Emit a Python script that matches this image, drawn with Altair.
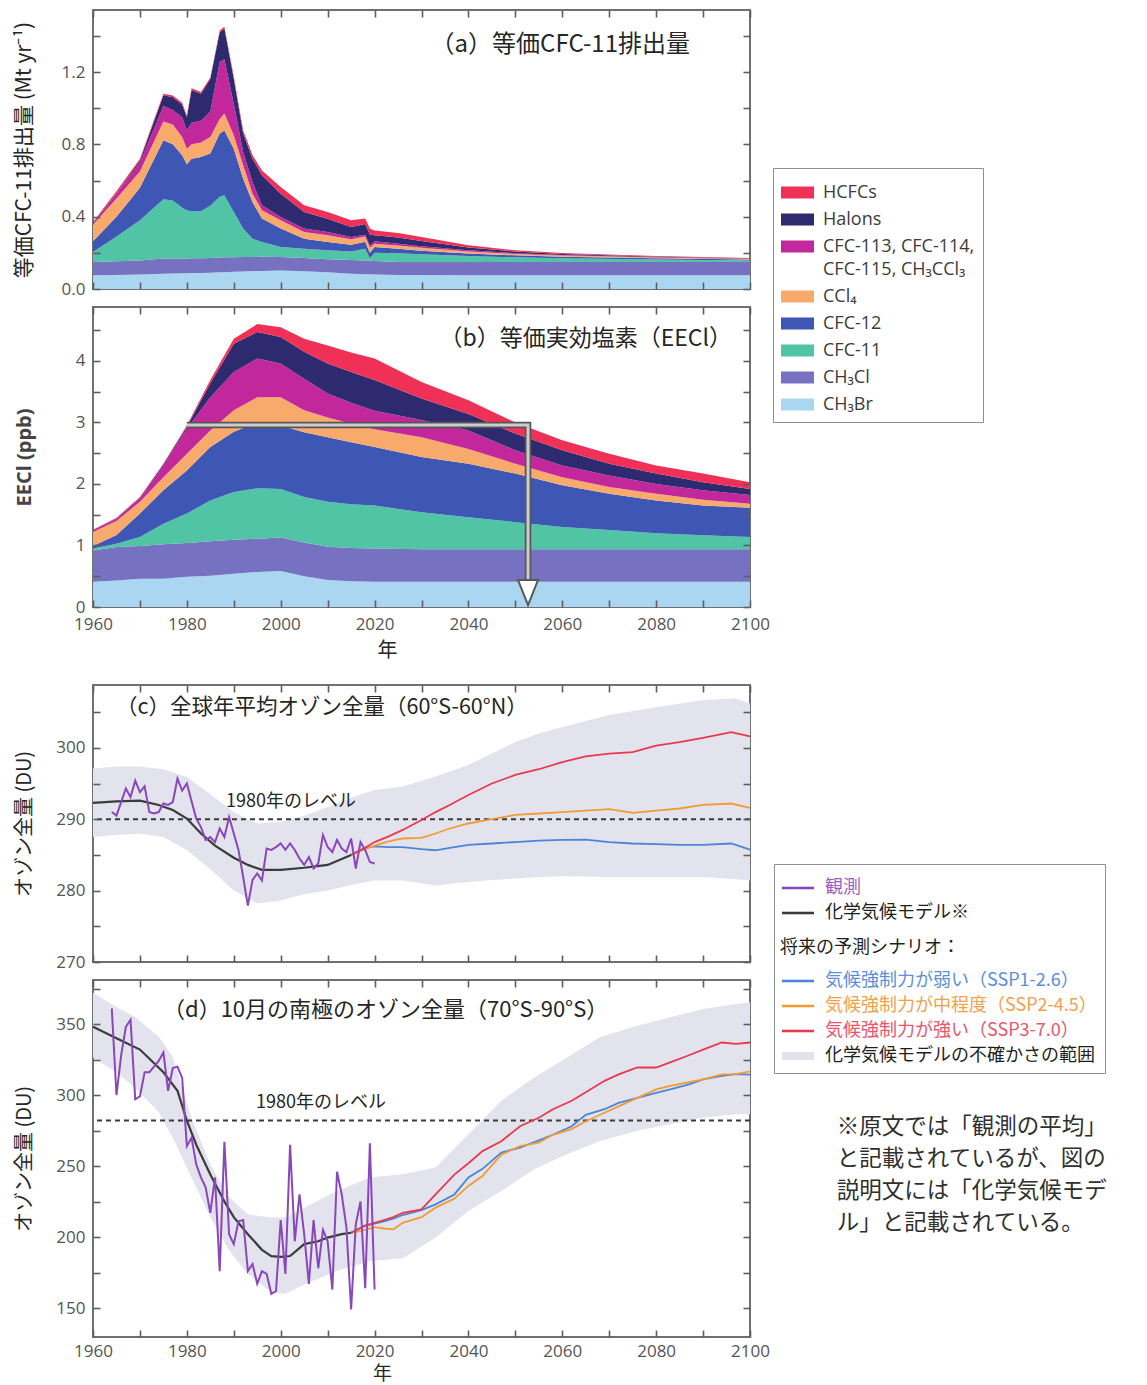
import altair as alt
import pandas as pd

JP = "Noto Sans CJK JP"
NUM = "Open Sans"
NUM_COLOR = "#555555"
TICK_COLOR = "#5e5e5e"
TEXT_COLOR = "#262626"

W = 657
H_A, H_B, H_C, H_D = 279, 300, 277, 357

X_DOMAIN = [1960, 2100]
X_TICKS = [1960, 1970, 1980, 1990, 2000, 2010, 2020, 2030, 2040, 2050, 2060, 2070, 2080, 2090, 2100]
X_LABELS = [1960, 1980, 2000, 2020, 2040, 2060, 2080, 2100]

# legend order (top -> bottom) and colours of the stacked species
SPECIES = ["HCFCs", "Halons", "CFC-113, CFC-114,|CFC-115, CH₃CCl₃", "CCl₄", "CFC-12", "CFC-11", "CH₃Cl", "CH₃Br"]
SPECIES_COLORS = ["#ef3057", "#2d2a70", "#c2279c", "#f7aa6c", "#3e57b5", "#51c4a6", "#7672c1", "#aad6f2"]

# ---------------- (a) equivalent CFC-11 emissions: upper edge of each stacked layer (Mt/yr) ----------------
A_YEARS = [1960, 1965, 1970, 1975, 1977, 1979, 1980, 1981, 1983, 1985, 1987, 1988, 1990, 1992, 1994,
           1996, 2000, 2005, 2010, 2015, 2018, 2019, 2020, 2025, 2030, 2040, 2050, 2060, 2080, 2100]
A_CH3BR = [.076, .078, .080, .085, .086, .087, .087, .088, .088, .090, .092, .093, .095, .097, .099,
           .100, .103, .098, .092, .085, .082, .081, .080, .077, .077, .076, .076, .076, .076, .076]
A_CH3CL = [.149, .153, .158, .168, .168, .169, .169, .170, .170, .172, .174, .175, .176, .177, .177,
           .178, .177, .172, .165, .160, .157, .156, .155, .150, .150, .150, .149, .149, .149, .149]
A_CFC11 = [.205, .290, .380, .496, .490, .450, .435, .430, .430, .460, .510, .518, .426, .334, .278,
           .260, .232, .223, .214, .208, .223, .170, .200, .198, .192, .183, .175, .170, .163, .158]
A_CFC12 = [.264, .400, .560, .822, .800, .740, .690, .720, .730, .750, .860, .877, .776, .610, .480,
           .390, .334, .278, .260, .245, .262, .200, .232, .222, .212, .197, .186, .179, .170, .163]
A_CCL4 = [.356, .500, .650, .927, .910, .840, .776, .800, .810, .840, .940, .970, .850, .684, .527,
          .435, .380, .315, .297, .275, .290, .230, .250, .240, .228, .208, .194, .185, .174, .166]
A_CFC113 = [.362, .525, .700, 1.012, .990, .950, .877, .920, .930, .980, 1.255, 1.270, 1.025, .758, .590,
            .463, .398, .334, .315, .288, .300, .240, .264, .250, .237, .214, .198, .188, .176, .167]
A_HALONS = [.366, .530, .710, 1.071, 1.060, 1.020, .950, 1.100, 1.080, 1.163, 1.420, 1.440, 1.163, .860, .720,
            .629, .527, .426, .389, .343, .360, .300, .297, .285, .265, .230, .207, .194, .179, .169]
A_HCFCS = [.370, .540, .720, 1.080, 1.070, 1.030, .960, 1.110, 1.090, 1.170, 1.430, 1.450, 1.175, .877, .740,
           .656, .564, .463, .426, .380, .390, .335, .324, .310, .288, .242, .214, .199, .182, .171]
A_Y_DOMAIN = [0, 1.543]
A_Y_TICKS = [0, 0.2, 0.4, 0.6, 0.8, 1.0, 1.2, 1.4]
A_Y_LABELS = [0, 0.4, 0.8, 1.2]

# ---------------- (b) EECl: upper edge of each stacked layer (ppb) ----------------
B_YEARS = [1960, 1965, 1970, 1975, 1980, 1985, 1990, 1995, 2000, 2005, 2010, 2015, 2020, 2030, 2040,
           2050, 2060, 2070, 2080, 2090, 2100]
B_CH3BR = [.41, .43, .46, .46, .49, .51, .54, .57, .585, .50, .44, .42, .41, .41, .41, .41, .41, .41, .41, .41, .41]
B_CH3CL = [.92, .975, .99, 1.02, 1.04, 1.07, 1.095, 1.11, 1.13, 1.05, .98, .96, .95, .94, .94, .94, .94, .94, .94, .94, .94]
B_CFC11 = [.95, 1.03, 1.14, 1.355, 1.52, 1.73, 1.87, 1.93, 1.92, 1.79, 1.71, 1.67, 1.65, 1.54, 1.46, 1.38, 1.30, 1.25,
           1.20, 1.165, 1.14]
B_CFC12 = [.99, 1.17, 1.52, 1.90, 2.22, 2.60, 2.85, 3.00, 2.95, 2.84, 2.76, 2.68, 2.60, 2.44, 2.33, 2.17, 1.98, 1.84,
           1.73, 1.65, 1.615]
B_CCL4 = [1.22, 1.40, 1.71, 2.11, 2.49, 2.87, 3.20, 3.41, 3.41, 3.20, 3.08, 2.98, 2.89, 2.76, 2.57, 2.33, 2.11, 1.95,
          1.84, 1.745, 1.68]
B_CFC113 = [1.245, 1.43, 1.77, 2.30, 2.90, 3.41, 3.82, 4.04, 3.96, 3.71, 3.47, 3.32, 3.19, 3.04, 2.87, 2.55, 2.30,
            2.14, 2.00, 1.90, 1.82]
B_HALONS = [1.25, 1.44, 1.78, 2.32, 2.93, 3.64, 4.28, 4.47, 4.39, 4.15, 3.96, 3.82, 3.69, 3.39, 3.14, 2.82, 2.55,
            2.33, 2.17, 2.03, 1.92]
B_HCFCS = [1.255, 1.45, 1.79, 2.33, 2.95, 3.69, 4.36, 4.60, 4.55, 4.36, 4.25, 4.14, 4.04, 3.66, 3.36, 3.00, 2.71,
           2.49, 2.30, 2.17, 2.03]
B_Y_DOMAIN = [0, 4.878]
B_Y_TICKS = [0, 0.5, 1, 1.5, 2, 2.5, 3, 3.5, 4, 4.5]
B_Y_LABELS = [0, 1, 2, 3, 4]
ARROW_YEARS = [1980, 2052.7, 2052.7]
ARROW_EECL = [2.96, 2.96, 0.45]
ARROW_TIP_YEAR = [2052.7]
ARROW_TIP_EECL = [0.235]

# ---------------- ozone panels: shared legend ----------------
OBS_C, MODEL_C = "#8b47ba", "#3b3b3b"
SSP1_C, SSP2_C, SSP3_C = "#4a86d8", "#f29b35", "#e8394f"
BAND_C = "#e3e3ee"
HEAD = "将来の予測シナリオ："
BAND_LABEL = "化学気候モデルの不確かさの範囲"
OZ_LABELS = ["観測", "化学気候モデル※", HEAD, "気候強制力が弱い（SSP1-2.6）",
             "気候強制力が中程度（SSP2-4.5）", "気候強制力が強い（SSP3-7.0）", BAND_LABEL]
OZ_SYMBOL_COLORS = [OBS_C, MODEL_C, "transparent", SSP1_C, SSP2_C, SSP3_C, BAND_C]
OZ_LABEL_COLORS = ["#9a5cc6", "#1f1f1f", "#1f1f1f", "#5b8fd9", "#f0a24a", "#e9566c", "#1f1f1f"]

OBS_YEARS = list(range(1964, 2021))

# ---------------- (c) global mean total ozone (DU) ----------------
C_Y_DOMAIN = [270, 308.8]
C_Y_TICKS = [270, 275, 280, 285, 290, 295, 300, 305]
C_Y_LABELS = [270, 280, 290, 300]
C_LEVEL = [290]
C_LEVEL_TEXT = ([2002.2], [292.4])
C_BAND_YEARS = [1960, 1965, 1970, 1975, 1980, 1985, 1990, 1995, 2000, 2005, 2010, 2015, 2020, 2026, 2033,
                2040, 2045, 2050, 2055, 2060, 2070, 2080, 2090, 2097, 2100]
C_BAND_LOW = [287.5, 287.8, 288.0, 287.5, 285.7, 283.0, 280.0, 278.2, 278.6, 279.5, 280.0, 280.8, 281.4, 281.4,
              280.7, 281.2, 281.5, 281.7, 281.9, 282.0, 281.9, 281.9, 281.9, 281.6, 281.4]
C_BAND_HIGH = [297.1, 297.4, 297.4, 297.0, 295.9, 293.5, 291.0, 289.4, 289.6, 290.5, 291.7, 293.0, 294.1, 294.6,
               296.0, 297.6, 299.2, 300.8, 302.0, 302.9, 304.6, 305.7, 306.7, 306.9, 306.2]
C_MODEL_YEARS = [1960, 1965, 1970, 1974, 1977, 1980, 1983, 1986, 1990, 1993, 1996, 2000, 2005, 2010, 2015]
C_MODEL = [292.3, 292.5, 292.6, 292.0, 291.3, 290.1, 288.0, 286.3, 284.6, 283.6, 282.9, 282.9, 283.2, 283.6, 285.0]
C_SCEN_YEARS = [2015, 2018, 2020, 2023, 2026, 2030, 2033, 2036, 2040, 2045, 2050, 2055, 2060, 2065, 2070, 2075,
                2080, 2085, 2090, 2096, 2100]
C_SSP126 = [285.0, 286.0, 286.2, 286.1, 286.1, 285.8, 285.65, 286.0, 286.4, 286.6, 286.8, 287.0, 287.1, 287.15,
            286.8, 286.6, 286.5, 286.4, 286.4, 286.6, 285.75]
C_SSP245 = [285.0, 285.8, 286.3, 286.9, 287.3, 287.4, 288.0, 288.7, 289.4, 290.0, 290.6, 290.8, 291.0, 291.2,
            291.4, 290.9, 291.2, 291.5, 292.0, 292.2, 291.6]
C_SSP370 = [285.0, 286.0, 286.8, 287.6, 288.5, 289.9, 291.0, 292.0, 293.4, 295.0, 296.2, 297.0, 298.0, 298.8,
            299.2, 299.4, 300.3, 300.8, 301.4, 302.2, 301.6]
C_OBS = [291.0, 290.5, 292.4, 294.3, 293.1, 295.4, 293.8, 294.6, 291.0, 290.8, 291.0, 292.2, 292.0, 292.4, 295.7,
         294.0, 295.0, 292.5, 290.1, 288.9, 287.1, 287.5, 286.8, 288.7, 287.5, 290.3, 288.0, 285.7, 281.9, 277.9,
         281.5, 282.4, 281.4, 285.9, 285.7, 286.1, 286.6, 285.7, 286.6, 285.7, 284.5, 283.6, 284.7, 283.1, 283.8,
         287.8, 286.1, 285.4, 287.1, 285.9, 285.4, 287.3, 283.1, 286.8, 285.7, 284.0, 283.8]

# ---------------- (d) October Antarctic total ozone (DU) ----------------
D_Y_DOMAIN = [129.6, 381.0]
D_Y_TICKS = [150, 175, 200, 225, 250, 275, 300, 325, 350, 375]
D_Y_LABELS = [150, 200, 250, 300, 350]
D_LEVEL = [282.0]
D_LEVEL_TEXT = ([2008.6], [294.4])
D_BAND_YEARS = [1960, 1965, 1969, 1974, 1977, 1981, 1985, 1989, 1993, 1998, 2001, 2005, 2012, 2019, 2026, 2033,
                2040, 2047, 2054, 2061, 2068, 2076, 2083, 2090, 2097, 2100]
D_BAND_HIGH = [372, 362, 355, 341, 327, 284, 251, 228, 216, 213.7, 213.7, 220.7, 232.5, 241.9, 244.2, 248.9,
               272.4, 296, 312.4, 326.5, 340.6, 348.8, 354.7, 360.6, 364.1, 365.3]
D_BAND_LOW = [326.5, 316, 305, 288, 270, 242, 214, 190.5, 174, 161, 160, 166.6, 176, 183, 185, 199.6, 218.4,
              232.5, 247.7, 258.3, 267.7, 274.8, 279.5, 284.2, 286.5, 286.5]
D_MODEL_YEARS = [1960, 1965, 1970, 1975, 1978, 1980, 1982, 1985, 1988, 1990, 1993, 1996, 1998, 2000, 2002, 2005,
                 2008, 2010, 2013, 2015]
D_MODEL = [348, 340, 332, 316, 303, 282, 265, 244, 225, 214, 202, 191, 186.5, 186, 186.6, 195, 197, 199.6, 202, 203]
D_SCEN_YEARS = [2015, 2018, 2020, 2022, 2024, 2026, 2030, 2033, 2037, 2040, 2043, 2047, 2051, 2055, 2058, 2062,
                2065, 2069, 2072, 2076, 2080, 2083, 2087, 2090, 2094, 2097, 2100]
D_SSP370 = [203, 208, 210, 212, 214, 217, 219.5, 230, 244, 252, 260.5, 267.5, 278, 284, 290, 296, 302, 310, 314.5,
            319.4, 319.4, 323, 328, 332, 337, 336, 337]
D_SSP126 = [203, 208, 209.5, 211, 213, 215.5, 219, 223, 230, 242, 248, 259.5, 263, 268, 272, 278, 286, 290, 294.5,
            298, 301.5, 304, 307.5, 311, 313.5, 314.7, 314.3]
D_SSP245 = [203, 205, 207, 206, 205.4, 210, 214, 220.7, 227, 236, 243, 258, 264, 266.5, 272, 276, 281.5, 287.5,
            292, 298, 304, 306.5, 309, 311, 314.5, 314.7, 316.6]
D_OBS = [361, 300, 328, 348, 353, 297, 299, 316, 316, 320, 324, 330, 303, 319, 320, 312, 264, 270, 251, 242, 235,
         217, 242, 176, 267, 202, 195, 211, 212, 176, 181, 167, 176, 174, 160, 162, 212, 174, 265, 197, 230, 202,
         167, 212, 178, 205, 197, 163, 246, 230, 207, 149, 209, 225, 164, 266, 163]

NOTE_LINES = ["※原文では「観測の平均」", "と記載されているが、図の", "説明文には「化学気候モデ", "ル」と記載されている。"]
NOTE_POS = ([2118.5], [285.2])

XS = alt.Scale(domain=X_DOMAIN, nice=False, zero=False)


# ---------------- helpers ----------------
def stacked_frame(years, layers):
    rows = []
    below = [0.0] * len(years)
    for name, tops in layers:
        for yr, lo, hi in zip(years, below, tops):
            rows.append({"year": yr, "lower": lo, "upper": hi, "species": name})
        below = tops
    return pd.DataFrame(rows)


def y_label_axis(values, fmt, title, size, font=JP, weight="normal", color=TEXT_COLOR):
    return alt.Axis(orient="left", values=values, format=fmt, ticks=False, tickSize=0, domain=False, grid=False,
                    labelFont=NUM, labelFontSize=17, labelColor=NUM_COLOR, labelPadding=8, labelFlush=False,
                    title=title, titleFont=font, titleFontSize=size, titleFontWeight=weight,
                    titleColor=color, titleX=-69, titleBaseline="middle")


def x_label_axis(title_x, label_pad, title_pad, title_size):
    return alt.Axis(orient="bottom", values=X_LABELS, format="d", ticks=False, tickSize=0, domain=False,
                    grid=False, labelFont=NUM, labelFontSize=17, labelColor=NUM_COLOR, labelPadding=label_pad,
                    labelFlush=False, title="年", titleFont=JP, titleFontSize=title_size,
                    titleFontWeight="normal", titleColor=TEXT_COLOR, titleX=title_x, titlePadding=title_pad)


def tick_axis(orient, offset, values):
    return alt.Axis(orient=orient, offset=offset, values=values, labels=False, ticks=True, tickSize=7,
                    tickWidth=1.6, tickColor=TICK_COLOR, domain=False, grid=False, title=None, zindex=2)


def tick_layers(df, xfield, yfield, ys, height, yticks):
    out = []
    for xo, yo in (("top", "right"), ("bottom", "left")):
        out.append(alt.Chart(df).mark_point(opacity=0).encode(
            x=alt.X(f"{xfield}:Q", scale=XS, axis=tick_axis(xo, -height, X_TICKS)),
            y=alt.Y(f"{yfield}:Q", scale=ys, axis=tick_axis(yo, -W, yticks))))
    return out


def panel_title(text, anchor, offset, dx, size):
    return alt.TitleParams(text=text, anchor=anchor, frame="group", orient="top", offset=offset, dx=dx,
                           font=JP, fontSize=size, fontWeight="normal", color=TEXT_COLOR)


def line_layer(years, vals, color, width, ys):
    df = pd.DataFrame({"year": years, "v": vals})
    return alt.Chart(df).mark_line(color=color, strokeWidth=width).encode(
        x=alt.X("year:Q", scale=XS, axis=None), y=alt.Y("v:Q", scale=ys, axis=None))


def level_layers(level, text_pos, ys):
    rule = alt.Chart(pd.DataFrame({"v": level})).mark_rule(
        color="#3a3a3a", strokeWidth=2, strokeDash=[5, 4]).encode(y=alt.Y("v:Q", scale=ys, axis=None))
    txt = alt.Chart(pd.DataFrame({"year": text_pos[0], "v": text_pos[1]})).mark_text(
        text="1980年のレベル", font=JP, fontSize=18, color=TEXT_COLOR).encode(
        x=alt.X("year:Q", scale=XS, axis=None), y=alt.Y("v:Q", scale=ys, axis=None))
    return rule, txt


# ---------------- legends ----------------
legend_a = alt.Legend(
    orient="none", legendX=680, legendY=158, direction="vertical", title=None,
    symbolType="M-1,-0.36H1V0.36H-1Z", symbolSize=1089, symbolStrokeWidth=0, symbolOpacity=1,
    labelExpr="split(datum.label, '|')", labelFont=NUM, labelFontSize=18, labelColor="#3c3c3c",
    labelOffset=9, labelLimit=400, rowPadding=1, padding=8, strokeColor="#8f8f8f", fillColor="white")

LINE_PATH = "M-1,-0.08H1V0.08H-1Z"
BOX_PATH = "M-1,-0.25H1V0.25H-1Z"
GAP_PATH = "M-1,-1.6H1V1.06H-1Z"
sym_expr = (f"datum.label == '{HEAD}' ? '{GAP_PATH}' : datum.label == '{BAND_LABEL}' ? '{BOX_PATH}' : "
            f"'{LINE_PATH}'")
color_expr = " : ".join(f"datum.label == '{lab}' ? '{col}'" for lab, col in zip(OZ_LABELS, OZ_LABEL_COLORS)) \
    + " : '#1f1f1f'"
offset_expr = f"datum.label == '{HEAD}' ? -34 : 11"

legend_c = alt.Legend(
    orient="none", legendX=681, legendY=179, direction="vertical", title=None,
    symbolType=alt.ExprRef(expr=sym_expr), symbolSize=1024, symbolStrokeWidth=0, symbolOpacity=1,
    labelFont=JP, labelFontSize=18, labelColor=alt.ExprRef(expr=color_expr),
    labelOffset=alt.ExprRef(expr=offset_expr), labelLimit=420, rowPadding=0, padding=8,
    strokeColor="#8f8f8f", fillColor="white")

# ---------------- panel (a) ----------------
STACK_NAMES = ["CH₃Br", "CH₃Cl", "CFC-11", "CFC-12", "CCl₄", SPECIES[2], "Halons", "HCFCs"]
a_df = stacked_frame(A_YEARS, list(zip(STACK_NAMES, [A_CH3BR, A_CH3CL, A_CFC11, A_CFC12, A_CCL4, A_CFC113,
                                                     A_HALONS, A_HCFCS])))
a_ys = alt.Scale(domain=A_Y_DOMAIN, nice=False, zero=False)
a_area = alt.Chart(a_df).mark_area(orient="vertical").encode(
    x=alt.X("year:Q", scale=XS, axis=None),
    y=alt.Y("upper:Q", scale=a_ys, axis=y_label_axis(A_Y_LABELS, ".1f", "等価CFC-11排出量 (Mt yr⁻¹)", 21)),
    y2=alt.Y2("lower:Q"),
    fill=alt.Fill("species:N", scale=alt.Scale(domain=SPECIES, range=SPECIES_COLORS), legend=legend_a))
panel_a = alt.layer(a_area, *tick_layers(a_df, "year", "upper", a_ys, H_A, A_Y_TICKS)).resolve_axis(
    x="independent", y="independent").properties(
    width=W, height=H_A, title=panel_title("（a）等価CFC-11排出量", "end", -48, -60, 24))

# ---------------- panel (b) ----------------
b_df = stacked_frame(B_YEARS, list(zip(STACK_NAMES, [B_CH3BR, B_CH3CL, B_CFC11, B_CFC12, B_CCL4, B_CFC113,
                                                     B_HALONS, B_HCFCS])))
b_ys = alt.Scale(domain=B_Y_DOMAIN, nice=False, zero=False)
b_area = alt.Chart(b_df).mark_area(orient="vertical").encode(
    x=alt.X("year:Q", scale=XS, axis=x_label_axis(294, 9, 8, 20)),
    y=alt.Y("upper:Q", scale=b_ys, axis=y_label_axis(B_Y_LABELS, "d", "EECl (ppb)", 20, NUM, "bold", "#444444")),
    y2=alt.Y2("lower:Q"),
    fill=alt.Fill("species:N", scale=alt.Scale(domain=SPECIES, range=SPECIES_COLORS), legend=None))
arrow_df = pd.DataFrame({"year": ARROW_YEARS, "v": ARROW_EECL, "idx": list(range(len(ARROW_YEARS)))})
arrow_outer = alt.Chart(arrow_df).mark_line(color="#575757", strokeWidth=6.5, strokeCap="butt",
                                            strokeJoin="miter").encode(
    x=alt.X("year:Q", scale=XS, axis=None), y=alt.Y("v:Q", scale=b_ys, axis=None), order="idx:Q")
arrow_inner = alt.Chart(arrow_df).mark_line(color="#cdcdcd", strokeWidth=3, strokeCap="butt",
                                            strokeJoin="miter").encode(
    x=alt.X("year:Q", scale=XS, axis=None), y=alt.Y("v:Q", scale=b_ys, axis=None), order="idx:Q")
arrow_head = alt.Chart(pd.DataFrame({"year": ARROW_TIP_YEAR, "v": ARROW_TIP_EECL})).mark_point(
    shape="M-0.8,-1L0.8,-1L0,1Z", size=625, filled=True, fill="white", stroke="#575757", strokeWidth=2,
    opacity=1).encode(x=alt.X("year:Q", scale=XS, axis=None), y=alt.Y("v:Q", scale=b_ys, axis=None))
panel_b = alt.layer(b_area, arrow_outer, arrow_inner, arrow_head,
                    *tick_layers(b_df, "year", "upper", b_ys, H_B, B_Y_TICKS)).resolve_axis(
    x="independent", y="independent").properties(
    width=W, height=H_B, title=panel_title("（b）等価実効塩素（EECl）", "end", -45, -18, 23))

# ---------------- panel (c) ----------------
c_ys = alt.Scale(domain=C_Y_DOMAIN, nice=False, zero=False)
c_band_df = pd.DataFrame({"year": C_BAND_YEARS, "low": C_BAND_LOW, "high": C_BAND_HIGH,
                          "kind": [BAND_LABEL] * len(C_BAND_YEARS)})
c_band = alt.Chart(c_band_df).mark_area(orient="vertical").encode(
    x=alt.X("year:Q", scale=XS, axis=None),
    y=alt.Y("high:Q", scale=c_ys, axis=y_label_axis(C_Y_LABELS, "d", "オゾン全量 (DU)", 20)),
    y2=alt.Y2("low:Q"),
    fill=alt.Fill("kind:N", scale=alt.Scale(domain=OZ_LABELS, range=OZ_SYMBOL_COLORS), legend=legend_c))
c_rule, c_text = level_layers(C_LEVEL, C_LEVEL_TEXT, c_ys)
panel_c = alt.layer(
    c_band, c_rule,
    line_layer(C_SCEN_YEARS, C_SSP126, SSP1_C, 1.8, c_ys),
    line_layer(C_SCEN_YEARS, C_SSP245, SSP2_C, 1.8, c_ys),
    line_layer(C_SCEN_YEARS, C_SSP370, SSP3_C, 1.8, c_ys),
    line_layer(C_MODEL_YEARS, C_MODEL, MODEL_C, 2.2, c_ys),
    line_layer(OBS_YEARS, C_OBS, OBS_C, 2, c_ys),
    c_text,
    *tick_layers(c_band_df, "year", "high", c_ys, H_C, C_Y_TICKS)).resolve_axis(
    x="independent", y="independent").properties(
    width=W, height=H_C, title=panel_title("（c）全球年平均オゾン全量（60°S-60°N）", "start", -34, 23, 21.5))

# ---------------- panel (d) ----------------
d_ys = alt.Scale(domain=D_Y_DOMAIN, nice=False, zero=False)
d_band_df = pd.DataFrame({"year": D_BAND_YEARS, "low": D_BAND_LOW, "high": D_BAND_HIGH})
d_band = alt.Chart(d_band_df).mark_area(orient="vertical", color=BAND_C).encode(
    x=alt.X("year:Q", scale=XS, axis=x_label_axis(289, 6, 5, 19)),
    y=alt.Y("high:Q", scale=d_ys, axis=y_label_axis(D_Y_LABELS, "d", "オゾン全量 (DU)", 20)),
    y2=alt.Y2("low:Q"))
d_rule, d_text = level_layers(D_LEVEL, D_LEVEL_TEXT, d_ys)
note = alt.Chart(pd.DataFrame({"year": NOTE_POS[0], "v": NOTE_POS[1]})).mark_text(
    text=NOTE_LINES, align="left", baseline="top", lineHeight=32, font=JP, fontSize=22.5,
    color="#303030").encode(x=alt.X("year:Q", scale=XS, axis=None), y=alt.Y("v:Q", scale=d_ys, axis=None))
panel_d = alt.layer(
    d_band, d_rule,
    line_layer(D_SCEN_YEARS, D_SSP126, SSP1_C, 1.8, d_ys),
    line_layer(D_SCEN_YEARS, D_SSP245, SSP2_C, 1.8, d_ys),
    line_layer(D_SCEN_YEARS, D_SSP370, SSP3_C, 1.8, d_ys),
    line_layer(D_MODEL_YEARS, D_MODEL, MODEL_C, 2.2, d_ys),
    line_layer(OBS_YEARS, D_OBS, OBS_C, 2, d_ys),
    d_text, note,
    *tick_layers(d_band_df, "year", "high", d_ys, H_D, D_Y_TICKS)).resolve_axis(
    x="independent", y="independent").properties(
    width=W, height=H_D, title=panel_title("（d）10月の南極のオゾン全量（70°S-90°S）", "start", -43, 70, 22))

# spacer between the two groups of panels
spacer = alt.Chart(pd.DataFrame({"v": [0]})).mark_point(opacity=0).encode(
    x=alt.X("v:Q", axis=None), y=alt.Y("v:Q", axis=None)).properties(
    width=W, height=42, view=alt.ViewBackground(stroke="transparent"))

chart = alt.vconcat(panel_a, panel_b, spacer, panel_c, panel_d, spacing=18, bounds="flush").resolve_scale(
    fill="independent").properties(
    padding={"left": 4, "top": 0, "right": 2, "bottom": 0})
chart = chart.configure(style={"guide-label": {"lineHeight": 23}}).configure_view(stroke="#707070", strokeWidth=2)

chart.save("out.html", embed_options={"renderer": "svg", "actions": False})
